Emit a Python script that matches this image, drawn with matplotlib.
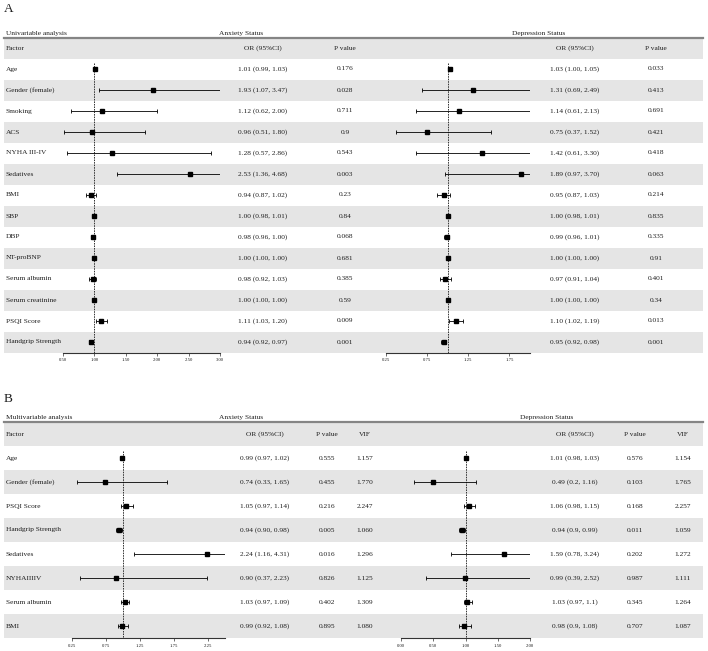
import re
import numpy as np
import matplotlib
matplotlib.use("Agg")
import matplotlib.pyplot as plt

plt.rcParams['font.family'] = ['Liberation Serif', 'DejaVu Serif']

# ============================================================
# DATA
# ============================================================

# Panel A - univariable analysis
uni_factors = ["Age", "Gender (female)", "Smoking", "ACS", "NYHA III-IV", "Sedatives",
               "BMI", "SBP", "DBP", "NT-proBNP", "Serum albumin", "Serum creatinine",
               "PSQI Score", "Handgrip Strength"]
uni_anx_or = ["1.01 (0.99, 1.03)", "1.93 (1.07, 3.47)", "1.12 (0.62, 2.00)", "0.96 (0.51, 1.80)",
              "1.28 (0.57, 2.86)", "2.53 (1.36, 4.68)", "0.94 (0.87, 1.02)", "1.00 (0.98, 1.01)",
              "0.98 (0.96, 1.00)", "1.00 (1.00, 1.00)", "0.98 (0.92, 1.03)", "1.00 (1.00, 1.00)",
              "1.11 (1.03, 1.20)", "0.94 (0.92, 0.97)"]
uni_anx_p = ["0.176", "0.028", "0.711", "0.9", "0.543", "0.003", "0.23", "0.84", "0.068",
             "0.681", "0.385", "0.59", "0.009", "0.001"]
uni_dep_or = ["1.03 (1.00, 1.05)", "1.31 (0.69, 2.49)", "1.14 (0.61, 2.13)", "0.75 (0.37, 1.52)",
              "1.42 (0.61, 3.30)", "1.89 (0.97, 3.70)", "0.95 (0.87, 1.03)", "1.00 (0.98, 1.01)",
              "0.99 (0.96, 1.01)", "1.00 (1.00, 1.00)", "0.97 (0.91, 1.04)", "1.00 (1.00, 1.00)",
              "1.10 (1.02, 1.19)", "0.95 (0.92, 0.98)"]
uni_dep_p = ["0.033", "0.413", "0.691", "0.421", "0.418", "0.063", "0.214", "0.835", "0.335",
             "0.91", "0.401", "0.34", "0.013", "0.001"]

# Panel B - multivariable analysis
multi_factors = ["Age", "Gender (female)", "PSQI Score", "Handgrip Strength", "Sedatives",
                 "NYHAIIIIV", "Serum albumin", "BMI"]
multi_anx_or = ["0.99 (0.97, 1.02)", "0.74 (0.33, 1.65)", "1.05 (0.97, 1.14)", "0.94 (0.90, 0.98)",
                "2.24 (1.16, 4.31)", "0.90 (0.37, 2.23)", "1.03 (0.97, 1.09)", "0.99 (0.92, 1.08)"]
multi_anx_p = ["0.555", "0.455", "0.216", "0.005", "0.016", "0.826", "0.402", "0.895"]
multi_anx_vif = ["1.157", "1.770", "2.247", "1.060", "1.296", "1.125", "1.309", "1.080"]
multi_dep_or = ["1.01 (0.98, 1.03)", "0.49 (0.2, 1.16)", "1.06 (0.98, 1.15)", "0.94 (0.9, 0.99)",
                "1.59 (0.78, 3.24)", "0.99 (0.39, 2.52)", "1.03 (0.97, 1.1)", "0.98 (0.9, 1.08)"]
multi_dep_p = ["0.576", "0.103", "0.168", "0.011", "0.202", "0.987", "0.345", "0.707"]
multi_dep_vif = ["1.154", "1.765", "2.257", "1.059", "1.272", "1.111", "1.264", "1.087"]

# ============================================================
# LAYOUT
# ============================================================

W, H = 708, 651
fig = plt.figure(figsize=(W / 100, H / 100), dpi=100)
TXT = '#1e1e1e'
SHADE = '#e5e5e5'
FS = 5.3


def parse_or(s):
    vals = [float(v) for v in re.findall(r"[\d.]+", s)]
    return vals[0], vals[1], vals[2]


def px_axes(x0, y0, x1, y1):
    return fig.add_axes([x0 / W, 1 - y1 / H, (x1 - x0) / W, (y1 - y0) / H])


def forest(x0, x1, top, bottom, n, or_text, xlim, ticks, ticklabels):
    ax = px_axes(x0, top, x1, bottom)
    ax.set_facecolor('none')
    ax.set_ylim(n - 0.5, -1.5)
    ax.set_xlim(*xlim)
    est, lo, hi = np.array([parse_or(s) for s in or_text]).T
    y = np.arange(n)
    ax.vlines(1.0, -0.3, n - 0.5, colors='#333333', linestyles=(0, (1.6, 1.0)), lw=0.7)
    ax.errorbar(est, y, xerr=[est - lo, hi - est], fmt='s', color='black', ms=3.4,
                elinewidth=0.6, capsize=1.4, capthick=0.6)
    for s in ['top', 'left', 'right']:
        ax.spines[s].set_visible(False)
    ax.spines['bottom'].set_color('#333333')
    ax.spines['bottom'].set_linewidth(0.8)
    ax.set_yticks([])
    ax.set_xticks(ticks)
    ax.set_xticklabels(ticklabels)
    ax.tick_params(axis='x', labelsize=3.4, length=2, width=0.5, pad=2,
                   colors='#333333', labelcolor=TXT)
    return ax


def panel(top, rowh, factors, section, cols, status, forests, letter, letter_y):
    n = len(factors)
    bottom = top + (n + 1) * rowh
    tab = px_axes(0, top, W, bottom)
    tab.set_xlim(0, W)
    tab.set_ylim(n - 0.5, -1.5)
    tab.axis('off')
    for i in range(-1, n, 2):
        tab.axhspan(i - 0.5, i + 0.5, xmin=4 / W, xmax=703 / W, color=SHADE, lw=0)
    tab.axhline(-1.5, xmin=4 / W, xmax=703 / W, color='#858585', lw=1.6, clip_on=False)
    tab.text(6, -1.58, section, ha='left', va='bottom', fontsize=FS, color=TXT)
    for x, s in status:
        tab.text(x, -1.58, s, ha='center', va='bottom', fontsize=FS, color=TXT)
    tab.text(6, -1, "Factor", ha='left', va='center', fontsize=FS, color=TXT)
    for i, f in enumerate(factors):
        tab.text(6, i, f, ha='left', va='center', fontsize=FS, color=TXT)
    for x, head, vals in cols:
        tab.text(x, -1, head, ha='center', va='center', fontsize=FS, color=TXT)
        for i, v in enumerate(vals):
            tab.text(x, i, v, ha='center', va='center', fontsize=FS, color=TXT)
    for x0, x1, or_text, xlim, ticks, labels in forests:
        forest(x0, x1, top, bottom, n, or_text, xlim, ticks, labels)
    fig.text(4 / W, 1 - letter_y / H, letter, ha='left', va='center', fontsize=9.5, color=TXT)


# Panel A
panel(37.5, 21, uni_factors, "Univariable analysis",
      [(263, "OR (95%CI)", uni_anx_or), (345, "P value", uni_anx_p),
       (575, "OR (95%CI)", uni_dep_or), (656, "P value", uni_dep_p)],
      [(241, "Anxiety Status"), (539, "Depression Status")],
      [(63, 220, uni_anx_or, (0.5, 3.0), [0.5, 1.0, 1.5, 2.0, 2.5, 3.0],
        ["0.50", "1.00", "1.50", "2.00", "2.50", "3.00"]),
       (386, 530, uni_dep_or, (0.25, 2.0), [0.25, 0.75, 1.25, 1.75],
        ["0.25", "0.75", "1.25", "1.75"])],
      "A", 9)

# Panel B
panel(422, 24, multi_factors, "Multivariable analysis",
      [(265, "OR (95%CI)", multi_anx_or), (327, "P value", multi_anx_p),
       (365, "VIF", multi_anx_vif),
       (575, "OR (95%CI)", multi_dep_or), (635, "P value", multi_dep_p),
       (683, "VIF", multi_dep_vif)],
      [(241, "Anxiety Status"), (547, "Depression Status")],
      [(72, 225, multi_anx_or, (0.25, 2.5), [0.25, 0.75, 1.25, 1.75, 2.25],
        ["0.25", "0.75", "1.25", "1.75", "2.25"]),
       (401, 530, multi_dep_or, (0.0, 2.0), [0.0, 0.5, 1.0, 1.5, 2.0],
        ["0.00", "0.50", "1.00", "1.50", "2.00"])],
      "B", 399)

fig.savefig("out.png", dpi=100, facecolor='white')
